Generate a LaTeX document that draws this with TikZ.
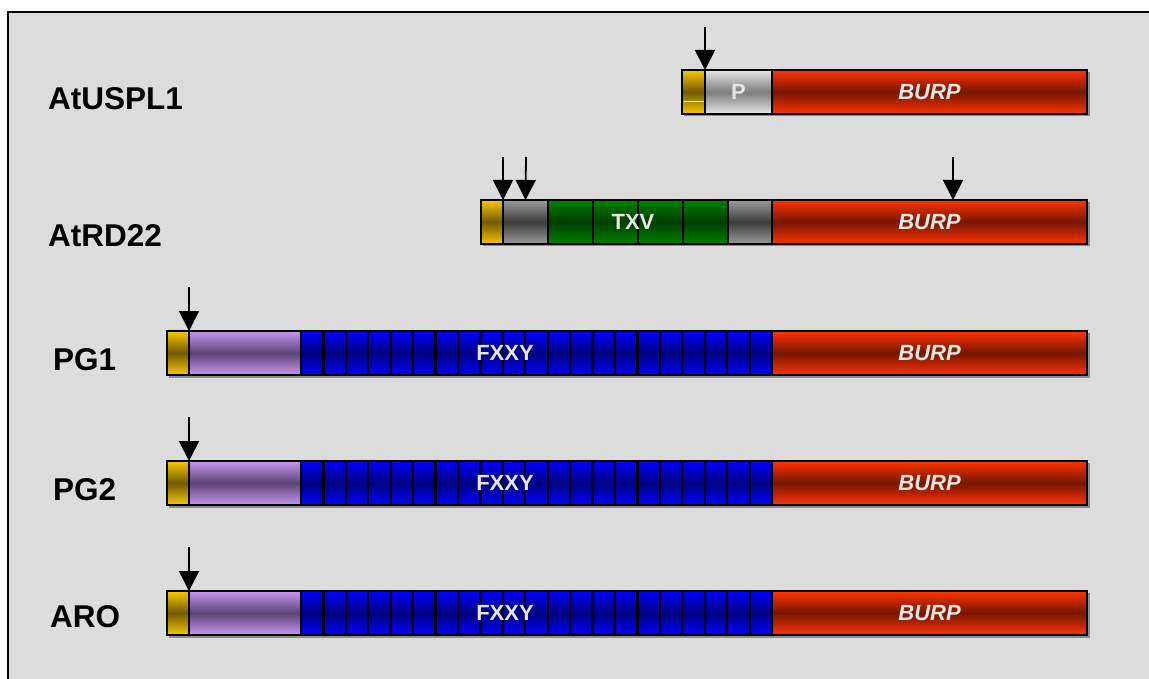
\documentclass[tikz,border=0pt]{standalone}
\usepackage{fontspec}
\setmainfont{Liberation Sans}
\usetikzlibrary{arrows.meta,positioning,calc}
\definecolor{panel}{HTML}{DCDCDC}
\definecolor{domtext}{HTML}{E6E6E6}
\definecolor{yelhi}{HTML}{F8C800}
\definecolor{yello}{HTML}{735A00}
\definecolor{ltghi}{HTML}{E8E8E8}
\definecolor{ltglo}{HTML}{7C7C7C}
\definecolor{dkghi}{HTML}{9A9A9A}
\definecolor{dkglo}{HTML}{3C3C3C}
\definecolor{grnhi}{HTML}{008200}
\definecolor{grnlo}{HTML}{003C00}
\definecolor{bluhi}{HTML}{0000FF}
\definecolor{blulo}{HTML}{000080}
\definecolor{purhi}{HTML}{C896F0}
\definecolor{purlo}{HTML}{5C4476}
\definecolor{redhi}{HTML}{FF3300}
\definecolor{redlo}{HTML}{761600}
\definecolor{shade}{HTML}{8C8C8C}

\begin{document}
\begin{tikzpicture}[x=1pt,y=-1pt,
  lbl/.style={anchor=west,inner sep=0pt,font=\bfseries\fontsize{31.5}{33}\selectfont},
  dom/.style={draw=black,line width=2.2pt,inner sep=0pt,outer sep=0pt,minimum height=44pt,anchor=west,text=domtext,font=\bfseries\fontsize{22}{24}\selectfont},
  yeldom/.style={top color=yelhi,bottom color=yelhi,middle color=yello},
  ltgdom/.style={top color=ltghi,bottom color=ltghi,middle color=ltglo},
  dkgdom/.style={top color=dkghi,bottom color=dkghi,middle color=dkglo},
  grndom/.style={top color=grnhi,bottom color=grnhi,middle color=grnlo},
  bludom/.style={top color=bluhi,bottom color=bluhi,middle color=blulo},
  purdom/.style={top color=purhi,bottom color=purhi,middle color=purlo},
  reddom/.style={top color=redhi,bottom color=redhi,middle color=redlo},
  domtxt/.style={inner sep=0pt,text=domtext,font=\bfseries\fontsize{22}{24}\selectfont},
  cut/.style={line width=1.8pt,-{Triangle[width=20pt,length=20pt]}},
  barshadow/.style={fill=shade}]
\useasboundingbox (0,0) rectangle (1149,679);
\fill[panel] (8,12) rectangle (1165,695);
\draw[line width=2pt] (8,695) -- (8,12) -- (1165,12);

% names
\node[lbl] (nuspl) at (48,98.5) {AtUSPL1};
\node[lbl] (nrd) at (48,236) {AtRD22};
\node[lbl] (npgone) at (53,359.5) {PG1};
\node[lbl] (npgtwo) at (53,489.5) {PG2};
\node[lbl] (naro) at (50,616.5) {ARO};

% AtUSPL1
\fill[barshadow] (684,72) rectangle (1089.5,116.5);
\node[dom,yeldom,minimum width=23pt] (usig) at (682,92) {};
\draw[white,line width=0.8pt] ($(usig.west)+(1.5,9)$) -- ($(usig.east)+(-1.5,9)$);
\node[dom,ltgdom,minimum width=67pt,right=0pt of usig] (upro) {P};
\node[dom,reddom,minimum width=315pt,right=0pt of upro,font=\bfseries\itshape\fontsize{22}{24}\selectfont] (uburp) {BURP};
\coordinate (ucut) at (705,27);
\draw[cut] (ucut) -- (upro.north west);

% AtRD22
\fill[barshadow] (483,202) rectangle (1089.5,246.5);
\node[dom,yeldom,minimum width=22pt] (rsig) at (481,222) {};
\node[dom,dkgdom,minimum width=45pt,right=0pt of rsig] (rgra) {};
\foreach \i in {1,...,4}{\node[dom,grndom,minimum width=45pt,anchor=center] (rtx\i) at ({548+(\i-0.5)*45},222) {};}
\node[dom,dkgdom,minimum width=44pt,right=0pt of rtx4] (rgrb) {};
\node[dom,reddom,minimum width=315pt,right=0pt of rgrb,font=\bfseries\itshape\fontsize{22}{24}\selectfont] (rburp) {BURP};
\node[domtxt] (rtxv) at (633,222) {TXV};
\coordinate (rcuta) at (503,157);
\coordinate (rcutb) at (526,157);
\coordinate (rcutc) at (953,157);
\coordinate (rcutd) at (953,200);
\draw[cut] (rcuta) -- (rgra.north west);
\draw[cut] (rcutb) -- (rgra.north);
\draw[cut] (rcutc) -- (rcutd);

% PG1, PG2, ARO
\foreach \r/\top in {pgone/331,pgtwo/461,aro/591}{
  \fill[barshadow] (169,\top+2) rectangle (1089.5,\top+46.5);
  \node[dom,yeldom,minimum width=22pt] (\r-sig) at (167,\top+22) {};
  \node[dom,purdom,minimum width=112pt,right=0pt of \r-sig] (\r-pro) {};
  \foreach \i in {1,...,21}{\node[dom,bludom,minimum width=22.43pt,anchor=center] (\r-fx\i) at ({301+(\i-0.5)*22.43},\top+22) {};}
  \node[dom,reddom,minimum width=315pt,right=0pt of \r-fx21,font=\bfseries\itshape\fontsize{22}{24}\selectfont] (\r-burp) {BURP};
  \node[domtxt] (\r-fxxy) at (505,\top+22) {FXXY};
  \coordinate (\r-cut) at (189,\top-44);
  \draw[cut] (\r-cut) -- (\r-pro.north west);
}
\end{tikzpicture}
\end{document}
